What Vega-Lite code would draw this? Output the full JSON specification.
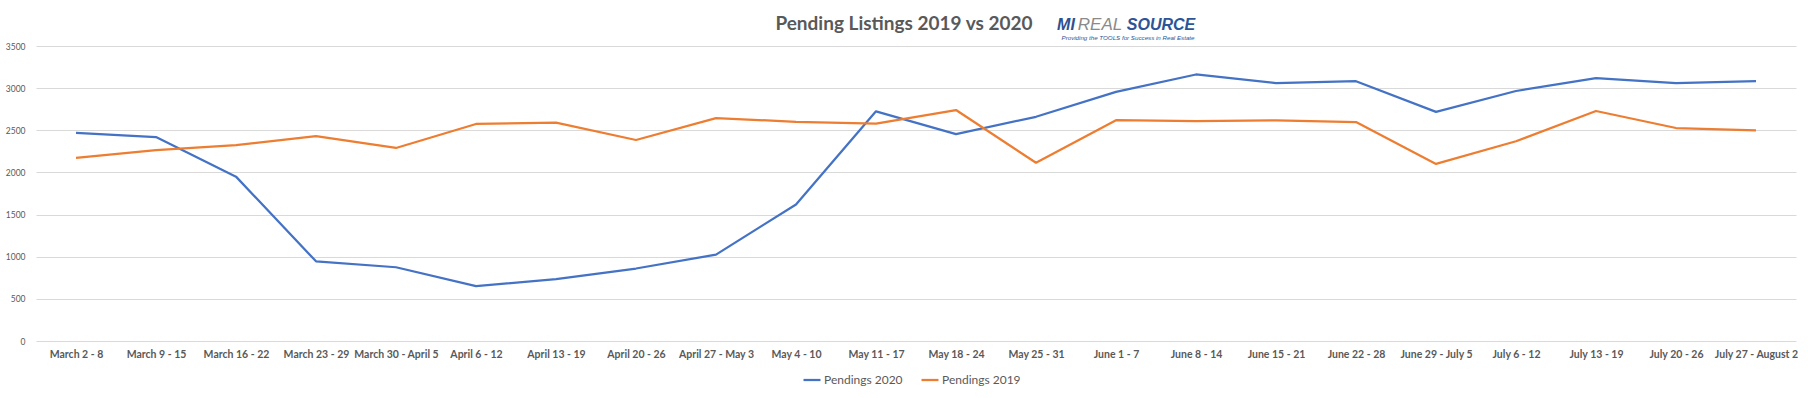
{
  "$schema": "https://vega.github.io/schema/vega-lite/v6.json",
  "width": 1760,
  "height": 295,
  "autosize": {"type": "none"},
  "padding": {"left": 36, "top": 46, "right": 12, "bottom": 57},
  "background": "white",
  "title": {
    "text": "Pending Listings 2019 vs 2020",
    "font": "Lato",
    "fontSize": 19,
    "fontWeight": "bold",
    "color": "#595959",
    "anchor": "middle",
    "dx": -12,
    "offset": -18
  },
  "data": {
    "values": [
      {"week": "March 2 - 8", "series": "Pendings 2020", "value": 2470},
      {"week": "March 9 - 15", "series": "Pendings 2020", "value": 2420},
      {"week": "March 16 - 22", "series": "Pendings 2020", "value": 1950},
      {"week": "March 23 - 29", "series": "Pendings 2020", "value": 945},
      {"week": "March 30 - April 5", "series": "Pendings 2020", "value": 875},
      {"week": "April 6 - 12", "series": "Pendings 2020", "value": 650},
      {"week": "April 13 - 19", "series": "Pendings 2020", "value": 735},
      {"week": "April 20 - 26", "series": "Pendings 2020", "value": 860},
      {"week": "April 27 - May 3", "series": "Pendings 2020", "value": 1025},
      {"week": "May 4 - 10", "series": "Pendings 2020", "value": 1620},
      {"week": "May 11 - 17", "series": "Pendings 2020", "value": 2725},
      {"week": "May 18 - 24", "series": "Pendings 2020", "value": 2455},
      {"week": "May 25 - 31", "series": "Pendings 2020", "value": 2660},
      {"week": "June 1 - 7", "series": "Pendings 2020", "value": 2955},
      {"week": "June 8 - 14", "series": "Pendings 2020", "value": 3162},
      {"week": "June 15 - 21", "series": "Pendings 2020", "value": 3060},
      {"week": "June 22 - 28", "series": "Pendings 2020", "value": 3082},
      {"week": "June 29 - July 5", "series": "Pendings 2020", "value": 2718},
      {"week": "July 6 - 12", "series": "Pendings 2020", "value": 2966},
      {"week": "July 13 - 19", "series": "Pendings 2020", "value": 3120},
      {"week": "July 20 - 26", "series": "Pendings 2020", "value": 3060},
      {"week": "July 27 - August 2", "series": "Pendings 2020", "value": 3082},
      {"week": "March 2 - 8", "series": "Pendings 2019", "value": 2172},
      {"week": "March 9 - 15", "series": "Pendings 2019", "value": 2265},
      {"week": "March 16 - 22", "series": "Pendings 2019", "value": 2325},
      {"week": "March 23 - 29", "series": "Pendings 2019", "value": 2430},
      {"week": "March 30 - April 5", "series": "Pendings 2019", "value": 2290},
      {"week": "April 6 - 12", "series": "Pendings 2019", "value": 2575},
      {"week": "April 13 - 19", "series": "Pendings 2019", "value": 2590},
      {"week": "April 20 - 26", "series": "Pendings 2019", "value": 2385},
      {"week": "April 27 - May 3", "series": "Pendings 2019", "value": 2645},
      {"week": "May 4 - 10", "series": "Pendings 2019", "value": 2600},
      {"week": "May 11 - 17", "series": "Pendings 2019", "value": 2580},
      {"week": "May 18 - 24", "series": "Pendings 2019", "value": 2740},
      {"week": "May 25 - 31", "series": "Pendings 2019", "value": 2115},
      {"week": "June 1 - 7", "series": "Pendings 2019", "value": 2620},
      {"week": "June 8 - 14", "series": "Pendings 2019", "value": 2610},
      {"week": "June 15 - 21", "series": "Pendings 2019", "value": 2618},
      {"week": "June 22 - 28", "series": "Pendings 2019", "value": 2597},
      {"week": "June 29 - July 5", "series": "Pendings 2019", "value": 2101},
      {"week": "July 6 - 12", "series": "Pendings 2019", "value": 2370},
      {"week": "July 13 - 19", "series": "Pendings 2019", "value": 2729},
      {"week": "July 20 - 26", "series": "Pendings 2019", "value": 2527},
      {"week": "July 27 - August 2", "series": "Pendings 2019", "value": 2500}
    ]
  },
  "layer": [
    {
      "mark": {"type": "line", "strokeWidth": 2.25, "strokeJoin": "round"},
      "encoding": {
        "x": {
          "field": "week",
          "type": "nominal",
          "sort": null,
          "axis": {
            "title": null,
            "labelAngle": 0,
            "labelFont": "Lato",
            "labelFontSize": 10.5,
            "labelFontWeight": "bold",
            "labelColor": "#595959",
            "labelPadding": 8,
            "ticks": false,
            "domain": false,
            "grid": false,
            "labelLimit": 200
          }
        },
        "y": {
          "field": "value",
          "type": "quantitative",
          "scale": {"domain": [0, 3500], "nice": false},
          "axis": {
            "title": null,
            "format": "d",
            "values": [0, 500, 1000, 1500, 2000, 2500, 3000, 3500],
            "labelFont": "Lato",
            "labelFontSize": 8.5,
            "labelColor": "#595959",
            "labelPadding": 11,
            "ticks": false,
            "domain": false,
            "grid": true,
            "gridColor": "#D9D9D9",
            "gridWidth": 1
          }
        },
        "color": {
          "field": "series",
          "type": "nominal",
          "sort": null,
          "scale": {"domain": ["Pendings 2020", "Pendings 2019"], "range": ["#4472C4", "#ED7D31"]},
          "legend": {
            "title": null,
            "orient": "none",
            "direction": "horizontal",
            "legendX": 766,
            "legendY": 324,
            "symbolType": "stroke",
            "symbolSize": 289,
            "symbolStrokeWidth": 2.25,
            "labelFont": "Lato",
            "labelFontSize": 12,
            "labelColor": "#595959",
            "labelOffset": 2,
            "columnPadding": 14
          }
        }
      }
    },
    {
      "data": {"values": [{}]},
      "mark": {"type": "text", "text": "MI", "font": "Liberation Sans", "fontSize": 16, "fontWeight": "bold", "fontStyle": "italic", "color": "#2F4F8F", "align": "center", "baseline": "middle", "dx": -50, "dy": -21},
      "encoding": {"x": {"datum": "June 1 - 7"}, "y": {"datum": 3500}}
    },
    {
      "data": {"values": [{}]},
      "mark": {"type": "text", "text": "REAL", "font": "Liberation Sans", "fontSize": 17, "fontStyle": "italic", "color": "#8A8A8A", "align": "center", "baseline": "middle", "dx": -16, "dy": -21},
      "encoding": {"x": {"datum": "June 1 - 7"}, "y": {"datum": 3500}}
    },
    {
      "data": {"values": [{}]},
      "mark": {"type": "text", "text": "SOURCE", "font": "Liberation Sans", "fontSize": 16, "fontWeight": "bold", "fontStyle": "italic", "color": "#2B5597", "align": "center", "baseline": "middle", "dx": 45, "dy": -21},
      "encoding": {"x": {"datum": "June 1 - 7"}, "y": {"datum": 3500}}
    },
    {
      "data": {"values": [{}]},
      "mark": {"type": "text", "text": "Providing the TOOLS for Success in Real Estate", "font": "Liberation Sans", "fontSize": 6.2, "fontStyle": "italic", "color": "#2B5597", "align": "center", "baseline": "middle", "dx": 12, "dy": -8},
      "encoding": {"x": {"datum": "June 1 - 7"}, "y": {"datum": 3500}}
    }
  ],
  "config": {
    "view": {"stroke": null}
  }
}
